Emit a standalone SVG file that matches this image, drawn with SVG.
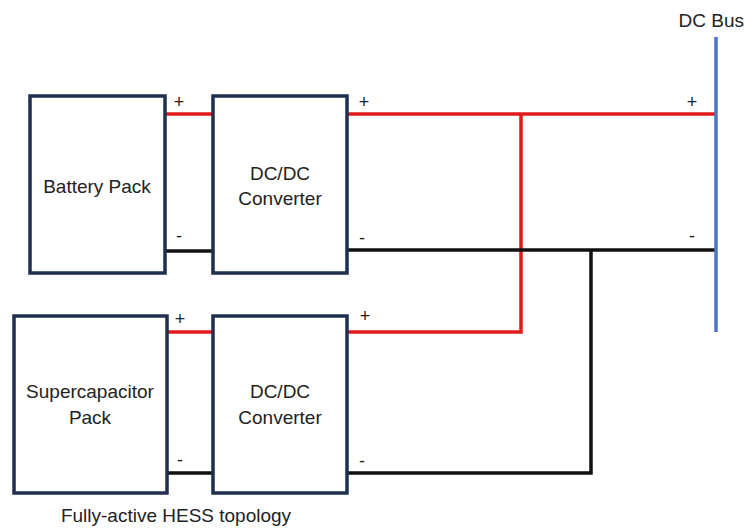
<svg xmlns="http://www.w3.org/2000/svg" width="746" height="529" viewBox="0 0 746 529">
<style>
.box{fill:#fff;stroke:#1f2f4f;stroke-width:3.5}
.t{font-family:"Liberation Sans",Arial,sans-serif;font-size:19px;fill:#222;text-anchor:middle}
.s{font-family:"Liberation Sans",Arial,sans-serif;font-size:18px;fill:#222;text-anchor:middle}
.red{stroke:#e01b1b;stroke-width:3.5;fill:none}
.blk{stroke:#111;stroke-width:3.5;fill:none}
</style>
<rect width="746" height="529" fill="#fff"/>
<g id="connectors">
<line class="red" x1="165" y1="114" x2="213" y2="114"/>
<line class="blk" x1="165" y1="251" x2="213" y2="251"/>
<line class="red" x1="167" y1="332" x2="213" y2="332"/>
<line class="blk" x1="167" y1="473" x2="213" y2="473"/>
<polyline class="red" points="347,114 716,114"/>
<polyline class="red" points="347,332 521,332 521,114"/>
<polyline class="blk" points="347,250 716,250"/>
<polyline class="blk" points="347,473 591,473 591,250"/>
<line x1="716" y1="37" x2="716" y2="332" stroke="#4a76c2" stroke-width="3.5"/>
</g>
<g id="battery">
<rect class="box" x="30" y="96" width="135" height="177"/>
<text class="t" x="97" y="193">Battery Pack</text>
</g>
<g id="converter1">
<rect class="box" x="213" y="96" width="134" height="177"/>
<text class="t" x="280" y="180">DC/DC</text>
<text class="t" x="280" y="205">Converter</text>
</g>
<g id="supercap">
<rect class="box" x="14" y="316" width="153" height="177"/>
<text class="t" x="90" y="398">Supercapacitor</text>
<text class="t" x="90" y="424">Pack</text>
</g>
<g id="converter2">
<rect class="box" x="213" y="316" width="134" height="177"/>
<text class="t" x="280" y="398">DC/DC</text>
<text class="t" x="280" y="424">Converter</text>
</g>
<g id="dcbus">
<text class="t" x="744" y="27" style="text-anchor:end">DC Bus</text>
</g>
<g id="labels">
<text class="s" x="179" y="108">+</text>
<text class="s" x="364" y="108">+</text>
<text class="s" x="179" y="242">-</text>
<text class="s" x="362" y="244">-</text>
<text class="s" x="692" y="108">+</text>
<text class="s" x="692" y="242">-</text>
<text class="s" x="180" y="325">+</text>
<text class="s" x="365" y="322">+</text>
<text class="s" x="180" y="466">-</text>
<text class="s" x="362" y="467">-</text>
<text class="t" x="176" y="522">Fully-active HESS topology</text>
</g>
</svg>
